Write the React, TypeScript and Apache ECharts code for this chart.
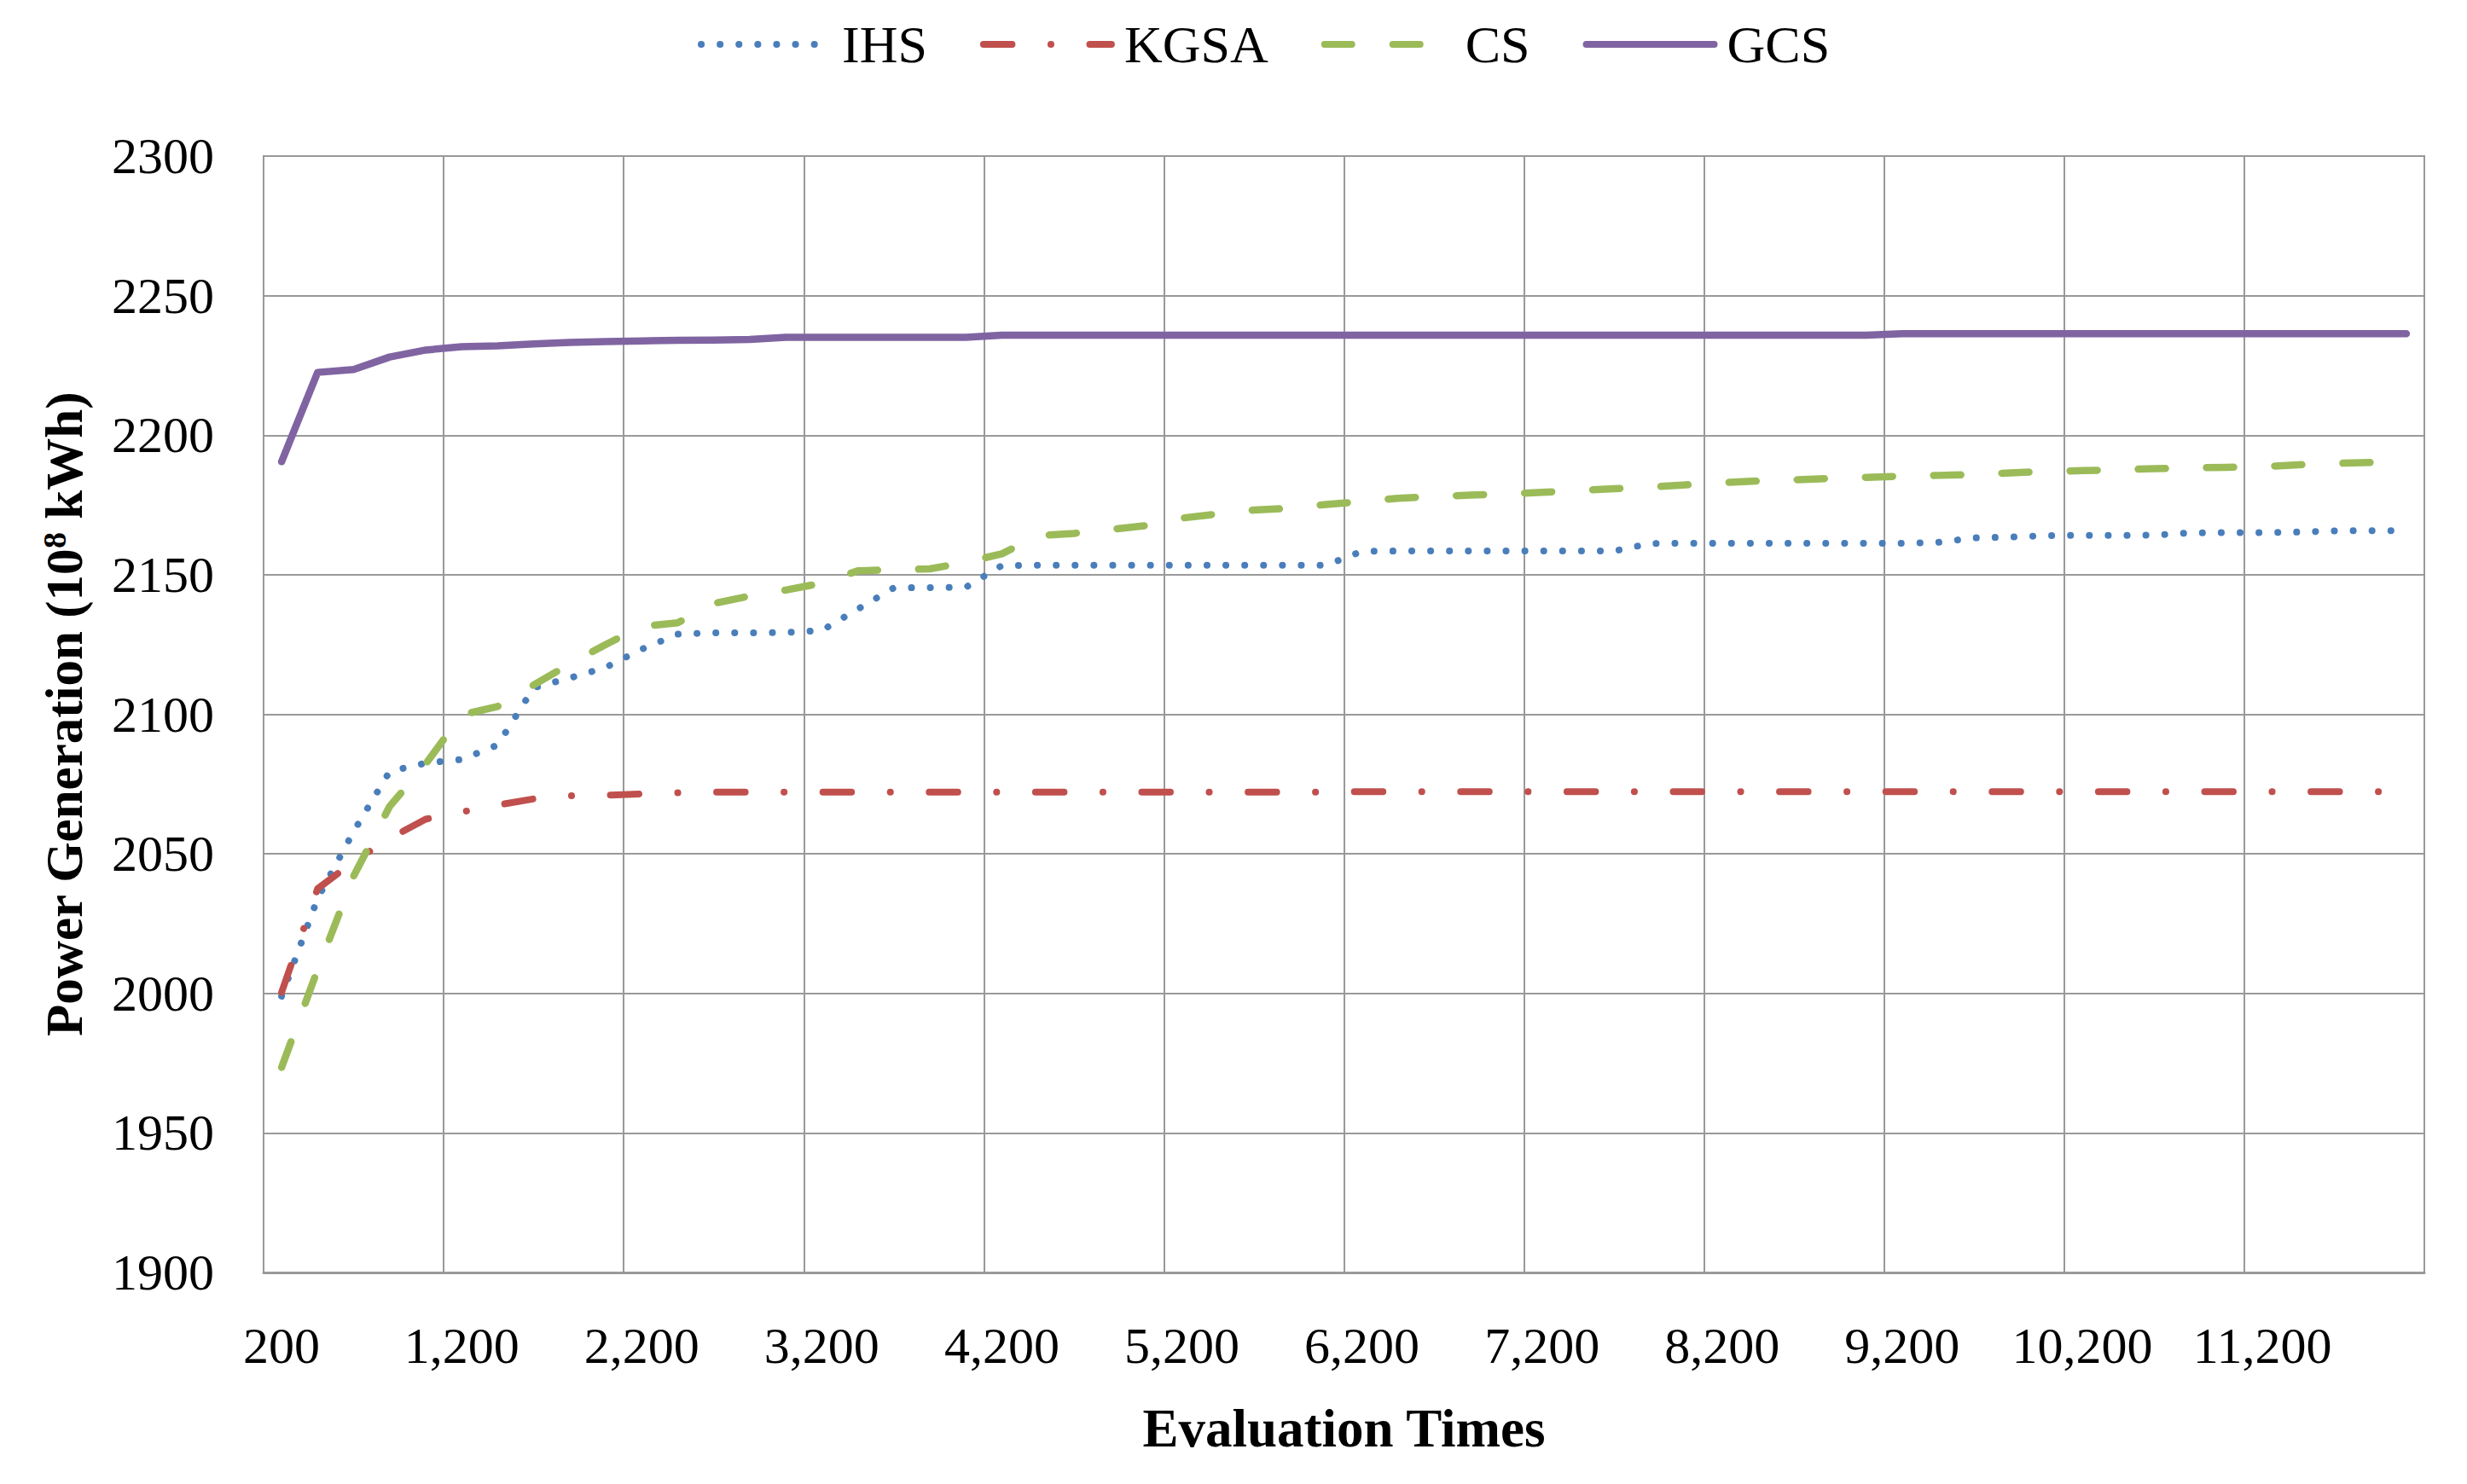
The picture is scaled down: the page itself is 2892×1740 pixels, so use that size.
import React, { useEffect, useRef } from "react";
import * as echarts from "echarts";

const evaluationTimes = [
  200, 400, 600, 800, 1000, 1200, 1400, 1600, 1800, 2000,
  2200, 2400, 2600, 2800, 3000, 3200, 3400, 3600, 3800, 4000,
  4200, 4400, 4600, 4800, 5000, 5200, 5400, 5600, 5800, 6000,
  6200, 6400, 6600, 6800, 7000, 7200, 7400, 7600, 7800, 8000,
  8200, 8400, 8600, 8800, 9000, 9200, 9400, 9600, 9800, 10000,
  10200, 10400, 10600, 10800, 11000, 11200, 11400, 11600, 11800, 12000,
];

const ihs = [
  1999, 2034, 2058, 2079.5, 2082.5, 2083.8, 2089, 2109.5, 2113, 2116.8,
  2123.3, 2128.7, 2129.2, 2129.2, 2129.3, 2130, 2137.7, 2145.3, 2145.4, 2145.5,
  2153.3, 2153.4, 2153.4, 2153.4, 2153.4, 2153.4, 2153.4, 2153.4, 2153.4, 2153.4,
  2158.4, 2158.5, 2158.5, 2158.5, 2158.5, 2158.5, 2158.5, 2158.5, 2161.2, 2161.3,
  2161.3, 2161.3, 2161.3, 2161.3, 2161.3, 2161.3, 2161.6, 2163.2, 2163.5, 2164,
  2164.1, 2164.1, 2164.2, 2165, 2165.1, 2165.1, 2165.3, 2165.7, 2165.8, 2165.8,
];

const kgsa = [
  2000.4, 2037.5, 2047.2, 2055.5, 2062.4, 2065, 2067.5, 2069.7, 2070.8, 2071,
  2071.5, 2071.9, 2072.1, 2072.1, 2072.1, 2072.1, 2072.1, 2072.1, 2072.1, 2072.1,
  2072.1, 2072.1, 2072.1, 2072.1, 2072.1, 2072.1, 2072.1, 2072.1, 2072.1, 2072.1,
  2072.3, 2072.3, 2072.3, 2072.3, 2072.3, 2072.3, 2072.3, 2072.3, 2072.3, 2072.3,
  2072.3, 2072.3, 2072.3, 2072.3, 2072.3, 2072.3, 2072.3, 2072.3, 2072.3, 2072.3,
  2072.3, 2072.3, 2072.3, 2072.3, 2072.3, 2072.3, 2072.3, 2072.3, 2072.3, 2072.3,
];

const cs = [
  1973.5, 2008.5, 2042, 2067, 2082.2, 2099.8, 2102.8, 2110.5, 2118, 2125,
  2131.5, 2132.8, 2139.7, 2142.4, 2144.5, 2147, 2151.4, 2151.8, 2152.1, 2154.5,
  2157.5, 2164, 2164.8, 2166.2, 2167.6, 2170.3, 2171.8, 2173.2, 2173.8, 2175.2,
  2176.2, 2177.4, 2178, 2178.5, 2179, 2179.5, 2180.2, 2180.8, 2181.4, 2182.2,
  2183, 2183.6, 2184, 2184.5, 2184.9, 2185.3, 2185.6, 2185.9, 2186.5, 2187,
  2187.3, 2187.6, 2188, 2188.3, 2188.5, 2188.7, 2189.4, 2189.9, 2190.2, 2190.3,
];

const gcs = [
  2190.5, 2222.5, 2223.5, 2228, 2230.5, 2231.7, 2232, 2232.7, 2233.2, 2233.5,
  2233.8, 2234, 2234.1, 2234.3, 2235.1, 2235.1, 2235.1, 2235.1, 2235.1, 2235.1,
  2235.8, 2235.8, 2235.8, 2235.8, 2235.8, 2235.8, 2235.8, 2235.8, 2235.8, 2235.8,
  2235.8, 2235.8, 2235.8, 2235.8, 2235.8, 2235.8, 2235.8, 2235.8, 2235.8, 2235.8,
  2235.8, 2235.8, 2235.8, 2235.8, 2235.8, 2236.4, 2236.4, 2236.4, 2236.4, 2236.4,
  2236.4, 2236.4, 2236.4, 2236.4, 2236.4, 2236.4, 2236.4, 2236.4, 2236.4, 2236.4,
];

const seriesNames = ["IHS", "KGSA", "CS", "GCS"];
const yMin = 1900;
const yMax = 2300;
const yStep = 50;

const FONT = "'Liberation Serif', 'Times New Roman', serif";
const GRID_COLOR = "#999999";

export default function App() {
  const ref = useRef<HTMLDivElement>(null);

  useEffect(() => {
    if (!ref.current) return;
    const chart = echarts.init(ref.current, null, { renderer: "svg" });
    const fmtX = (v: string | number) => Number(v).toLocaleString("en-US");
    const fmtY = (v: number) => String(v);

    const option = {
      animation: false,
      backgroundColor: "#ffffff",
      textStyle: { fontFamily: FONT, color: "#000" },
      legend: {
        data: seriesNames,
        left: 813,
        top: 16,
        itemWidth: 150,
        itemHeight: 20,
        itemGap: 62,
        itemStyle: { opacity: 0 },
        lineStyle: { width: 8, cap: "round" },
        textStyle: { fontFamily: FONT, fontSize: 62, color: "#000", padding: [0, 0, 0, 10] },
      },
      grid: {
        left: 309,
        right: 50,
        top: 183,
        bottom: 248,
        show: true,
        borderColor: GRID_COLOR,
        borderWidth: 2,
        containLabel: false,
        outerBoundsMode: "none",
      },
      xAxis: {
        type: "category",
        data: evaluationTimes,
        boundaryGap: true,
        name: "Evaluation Times",
        nameLocation: "middle",
        nameGap: 151,
        nameTextStyle: { fontFamily: FONT, fontSize: 63, fontWeight: "bold", color: "#000" },
        axisLine: { show: true, lineStyle: { color: GRID_COLOR, width: 3 } },
        axisTick: { show: false, interval: 4 },
        axisLabel: {
          interval: 4,
          margin: 56,
          fontFamily: FONT,
          fontSize: 60,
          color: "#000",
          formatter: fmtX,
        },
        splitLine: { show: true, interval: 4, lineStyle: { color: GRID_COLOR, width: 2 } },
      },
      yAxis: {
        type: "value",
        min: yMin,
        max: yMax,
        interval: yStep,
        name: "{t|Power Generation (10}{s|8}{t| kWh)}",
        nameLocation: "middle",
        nameGap: 203,
        nameTextStyle: {
          rich: {
            t: { fontFamily: FONT, fontSize: 61, fontWeight: "bold", color: "#000" },
            s: { fontFamily: FONT, fontSize: 38, fontWeight: "bold", color: "#000", verticalAlign: "top" },
          },
        },
        axisLine: { show: true, lineStyle: { color: GRID_COLOR, width: 2 } },
        axisTick: { show: false },
        axisLabel: { margin: 58, fontFamily: FONT, fontSize: 60, color: "#000", formatter: fmtY },
        splitLine: { show: true, lineStyle: { color: GRID_COLOR, width: 2 } },
      },
      series: [
        {
          name: "IHS",
          type: "line",
          data: ihs,
          symbol: "none",
          color: "#4A7EBB",
          lineStyle: { color: "#4A7EBB", width: 8, type: [0.1, 22], cap: "round", join: "round" },
        },
        {
          name: "KGSA",
          type: "line",
          data: kgsa,
          symbol: "none",
          color: "#C0504D",
          lineStyle: { color: "#C0504D", width: 8, type: [33.5, 45.5, 0.1, 45.5], cap: "round", join: "round" },
        },
        {
          name: "CS",
          type: "line",
          data: cs,
          symbol: "none",
          color: "#9BBB59",
          lineStyle: { color: "#9BBB59", width: 8.5, type: [32, 48], cap: "round", join: "round" },
        },
        {
          name: "GCS",
          type: "line",
          data: gcs,
          symbol: "none",
          color: "#8064A2",
          lineStyle: { color: "#8064A2", width: 8.5, type: "solid", cap: "round", join: "round" },
        },
      ],
    };

    chart.setOption(option as any);
    return () => chart.dispose();
  }, []);

  return (
    <div
      ref={ref}
      style={{ position: "fixed", left: 0, top: 0, width: 2892, height: 1740, background: "#fff" }}
    />
  );
}
